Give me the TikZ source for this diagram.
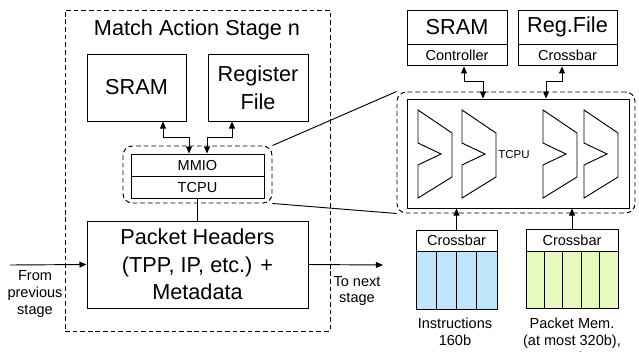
\documentclass[tikz,border=0pt]{standalone}
\usepackage{fontspec}
\setmainfont{Liberation Sans}
\usetikzlibrary{arrows.meta}

\definecolor{instblue}{RGB}{190,230,250}
\definecolor{pktgreen}{RGB}{230,250,190}

\tikzset{
  box/.style={draw, line width=0.8pt, inner sep=0pt, align=center},
  bigtxt/.style={font=\fontsize{18.5}{23.5}\selectfont},
  smalltxt/.style={font=\fontsize{12.4}{14.5}\selectfont},
  dashbox/.style={draw, line width=0.8pt, dash pattern=on 4pt off 2.5pt, inner sep=0pt},
  link/.style={line width=0.8pt, {Triangle[length=6pt,width=5pt]}-{Triangle[length=6pt,width=5pt]}},
  feed/.style={line width=0.8pt, -{Triangle[length=6pt,width=5pt]}},
}

\begin{document}
\begin{tikzpicture}[x=0.03cm, y=-0.03cm, line width=0.8pt]
\useasboundingbox (0,0) rectangle (639,351);

	% match action stage
	\node[dashbox, minimum width=7.95cm, minimum height=9.63cm] (stage) at (197.5,170.5) {};
	\node[bigtxt] (title) at (197,30) {Match Action Stage n};
	\node[box, bigtxt, minimum width=2.97cm, minimum height=2.01cm] (sram) at (136.5,87.5) {SRAM};
	\node[box, bigtxt, minimum width=3cm, minimum height=2.01cm] (regfile) at (258,87.5) {Register\\File};
	\node[dashbox, rounded corners=8pt, minimum width=4.47cm, minimum height=1.71cm] (tcpuwrap) at (197.5,174.5) {};
	\node[box, smalltxt, minimum width=3.99cm, minimum height=0.66cm] (mmio) at (197.5,165) {MMIO};
	\node[box, smalltxt, minimum width=3.99cm, minimum height=0.66cm] (tcpu) at (197.5,187) {TCPU};
	\node[box, bigtxt, minimum width=6.63cm, minimum height=2.61cm] (headers) at (197.5,264.5) {Packet Headers\\(TPP, IP, etc.) +\\Metadata};

	\draw[link] ([xshift=0.795cm]sram.south) -- ++(0,16) -| ([xshift=-0.255cm]mmio.north);
	\draw[link] ([xshift=-0.78cm]regfile.south) -- ++(0,16) -| ([xshift=0.285cm]mmio.north);
	\draw (tcpu.south) -- (headers.north);

	\coordinate (src) at (10,265);
	\coordinate (dst) at (383,265);
	\draw[feed] (src) -- (headers.west);
	\draw[feed] (headers.east) -- (dst);
	\node[smalltxt, align=center] (fromlbl) at (35,294) {From\\previous\\stage};
	\node[smalltxt, align=center] (tolbl) at (357,291) {To next\\stage};

	% zoomed tcpu
	\node[box, bigtxt, minimum width=3cm, minimum height=1.02cm] (sramtop) at (457,27) {SRAM};
	\node[box, smalltxt, minimum width=3cm, minimum height=0.63cm, anchor=north] (sramctl) at (sramtop.south) {Controller};
	\node[box, bigtxt, minimum width=2.97cm, minimum height=1.02cm] (regtop) at (567.5,27) {Reg.File};
	\node[box, smalltxt, minimum width=2.97cm, minimum height=0.63cm, anchor=north] (regxbar) at (regtop.south) {Crossbar};

	\node[dashbox, rounded corners=8pt, minimum width=7.14cm, minimum height=3.63cm] (zoom) at (516,152.5) {};
	\node[box, minimum width=6.66cm, minimum height=3.27cm] (core) at (518,153.5) {};
	\node[font=\fontsize{9.8}{12}\selectfont] (corelbl) at (514,155) {TCPU};
	\foreach \sx in {418,462,543,584}
		\draw (\sx,110) -- ++(34,23) -- ++(0,44) -- ++(-34,21) -- ++(0,-33) -- ++(23,-11) -- ++(-23,-11) -- cycle;

	\draw[link] ([xshift=0.21cm]sramctl.south) -- ++(0,15) -| ([xshift=-1.05cm]core.north);
	\draw[link] ([xshift=-0.165cm]regxbar.south) -- ++(0,15) -| ([xshift=0.84cm]core.north);

	\draw (tcpuwrap.north east) -- (zoom.north west);
	\draw (tcpuwrap.south east) -- (zoom.south west);

	% memories
	\foreach \i in {0,...,3}
		\draw[fill=instblue] (416+\i*20.25,251) rectangle ++(20.25,58);
	\foreach \i in {0,...,4}
		\draw[fill=pktgreen] (526+\i*18.4,251) rectangle ++(18.4,57);
	\node[box, smalltxt, fill=white, minimum width=2.43cm, minimum height=0.63cm] (instxbar) at (456.5,240.5) {Crossbar};
	\node[box, smalltxt, fill=white, minimum width=2.76cm, minimum height=0.66cm] (pktxbar) at (572,240) {Crossbar};
	\draw[feed] (instxbar.north) -- (instxbar.north |- core.south);
	\draw[feed] (pktxbar.north) -- (pktxbar.north |- core.south);

	\node[smalltxt, align=center] (instlbl) at (455,331.5) {Instructions\\160b};
	\node[smalltxt, align=center] (pktlbl) at (572,340) {Packet Mem.\\(at most 320b),\\Metadata};

\end{tikzpicture}
\end{document}
